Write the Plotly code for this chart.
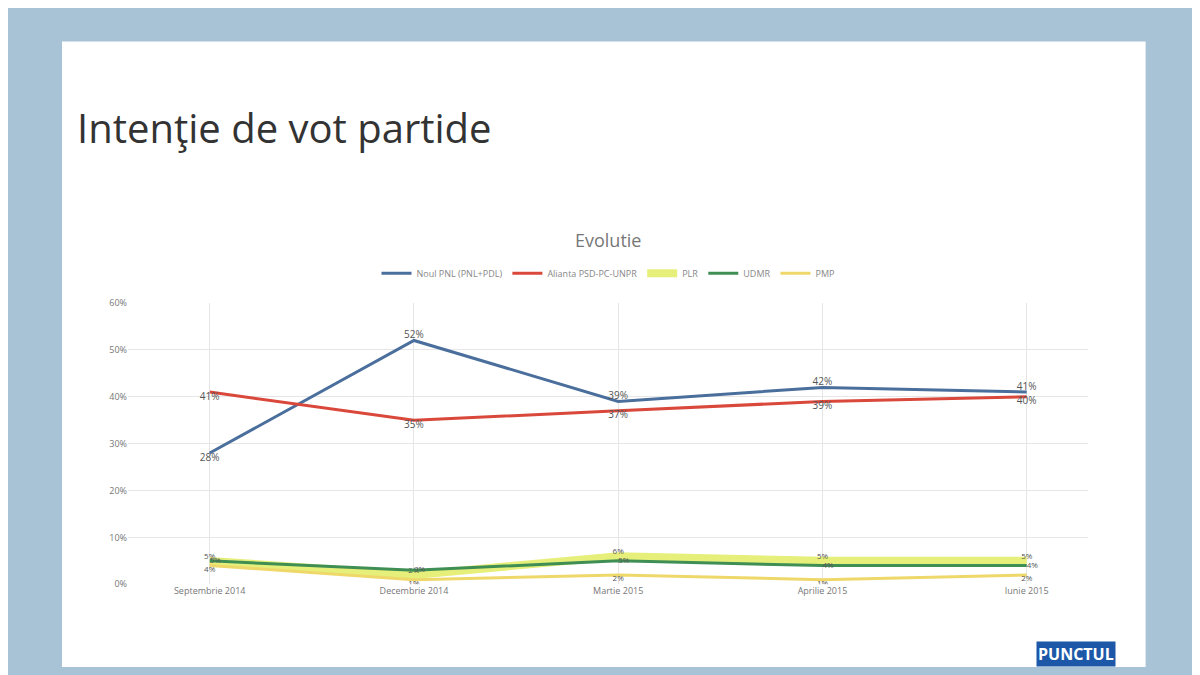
import plotly.graph_objects as go

months = ["Septembrie 2014", "Decembrie 2014", "Martie 2015", "Aprilie 2015", "Iunie 2015"]
pnl = [28, 52, 39, 42, 41]
psd = [41, 35, 37, 39, 40]
plr = [5, 2, 6, 5, 5]
udmr = [5, 3, 5, 4, 4]
pmp = [4, 1, 2, 1, 2]

series = [
    ("Noul PNL (PNL+PDL)", pnl, "#4a6f9c", 3, 10),
    ("Alianta PSD-PC-UNPR", psd, "#d9483b", 3, 10),
    ("PLR", plr, "#e6ef7a", 8, 8),
    ("UDMR", udmr, "#3f8f55", 3, 8),
    ("PMP", pmp, "#efd86a", 3, 8),
]
# label positions follow the reference
label_pos = {
    "Noul PNL (PNL+PDL)": ["bottom center", "top center", "top center", "top center", "top center"],
    "Alianta PSD-PC-UNPR": ["bottom center"] * 5,
    "PLR": ["top center"] * 5,
    "UDMR": ["middle right"] * 5,
    "PMP": ["bottom center"] * 5,
}

fig = go.Figure()
for name, vals, color, width, fsize in series:
    fig.add_trace(go.Scatter(
        x=months, y=vals, name=name, mode="lines+text",
        line=dict(color=color, width=width),
        text=[f"{v}%" for v in vals],
        textposition=label_pos[name],
        textfont=dict(size=fsize, color="#555"),
    ))

fig.update_layout(
    width=1200, height=675,
    paper_bgcolor="#a9c3d6", plot_bgcolor="white",
    margin=dict(l=0, r=0, t=0, b=0),
    font=dict(family="Open Sans", color="#666"),
    legend=dict(orientation="h", x=0.5, xanchor="center", y=0.61, yanchor="middle",
                font=dict(size=9, color="#888"), bgcolor="rgba(0,0,0,0)"),
    xaxis=dict(domain=[0.1, 0.9], showgrid=True, gridcolor="#e6e6e6",
               tickfont=dict(size=9, color="#777"), range=[-0.4, 4.3]),
    yaxis=dict(domain=[0.14, 0.565], range=[0, 60], dtick=10, ticksuffix="%",
               showgrid=True, gridcolor="#e6e6e6", tickfont=dict(size=9, color="#777"),
               zeroline=False),
    shapes=[dict(type="rect", xref="paper", yref="paper", x0=0.045, x1=0.948, y0=0.015, y1=0.96,
                 fillcolor="white", line=dict(width=0), layer="below")],
    annotations=[
        dict(text="Intenţie de vot partide", xref="paper", yref="paper", x=0.056, y=0.83,
             xanchor="left", yanchor="middle", showarrow=False,
             font=dict(size=40, color="#333", family="Open Sans")),
        dict(text="Evolutie", xref="paper", yref="paper", x=0.5, y=0.66,
             showarrow=False, font=dict(size=18, color="#777")),
        dict(text="<b>PUNCTUL</b>", xref="paper", yref="paper", x=0.89, y=0.015,
             xanchor="center", yanchor="bottom", showarrow=False, bgcolor="#1c57a8",
             font=dict(size=16, color="white")),
    ],
)
fig.write_html("out.html")
